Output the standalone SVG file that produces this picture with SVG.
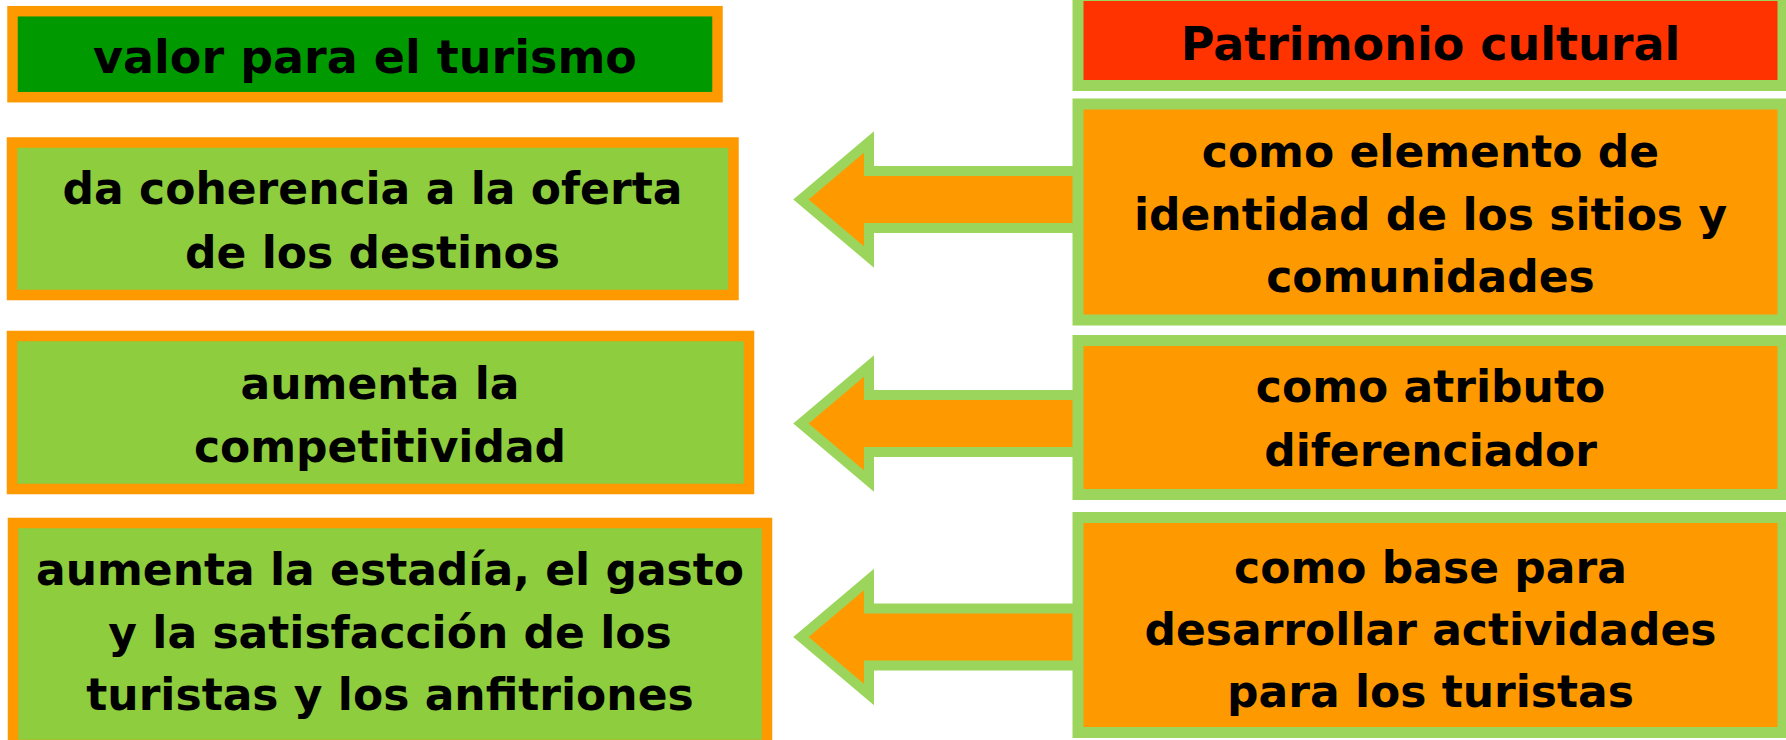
<svg xmlns="http://www.w3.org/2000/svg" width="1786" height="740" viewBox="0 0 1786 740">
<style>
.lbox{stroke:#FF9900;stroke-width:10.5}
.rbox{stroke:#9CD55B;stroke-width:11}
.arrow{fill:#FF9900;stroke:#9CD55B;stroke-width:10;stroke-linejoin:miter;stroke-miterlimit:10}
text{font-family:"DejaVu Sans","Verdana",sans-serif;font-weight:bold;fill:#000;text-anchor:middle}
.h{font-size:46px}
.b{font-size:44px}
</style>
<rect width="1786" height="740" fill="#FFFFFF"/>
<g id="connectors">
<path class="arrow" d="M1078,171 L869,171 L869,142 L801,199.5 L869,257 L869,228 L1078,228 Z"/>
<path class="arrow" d="M1078,395 L869,395 L869,366 L801,423.5 L869,481 L869,452 L1078,452 Z"/>
<path class="arrow" d="M1078,608.5 L869,608.5 L869,579.5 L801,637 L869,694.5 L869,665.5 L1078,665.5 Z"/>
</g>
<g id="left-header">
<rect class="lbox" x="12.5" y="11.2" width="705" height="86" fill="#009900"/>
<text class="h" x="365" y="72.7">valor para el turismo</text>
</g>
<g id="left-1">
<rect class="lbox" x="12" y="142.5" width="721.5" height="152.5" fill="#8DCD3E"/>
<text class="b" x="372.5" y="204">da coherencia a la oferta</text>
<text class="b" x="372.5" y="268">de los destinos</text>
</g>
<g id="left-2">
<rect class="lbox" x="12" y="336" width="737" height="153" fill="#8DCD3E"/>
<text class="b" x="380" y="399">aumenta la</text>
<text class="b" x="380" y="462">competitividad</text>
</g>
<g id="left-3">
<rect class="lbox" x="13" y="523" width="754" height="222" fill="#8DCD3E"/>
<text class="b" x="390" y="585">aumenta la estadía, el gasto</text>
<text class="b" x="390" y="648">y la satisfacción de los</text>
<text class="b" x="390" y="710">turistas y los anfitriones</text>
</g>
<g id="right-header">
<rect class="rbox" x="1078" y="-4.5" width="705" height="90" fill="#FF3300"/>
<text class="h" x="1430.5" y="60">Patrimonio cultural</text>
</g>
<g id="right-1">
<rect class="rbox" x="1078" y="104" width="705" height="216" fill="#FF9900"/>
<text class="b" x="1430.5" y="167">como elemento de</text>
<text class="b" x="1430.5" y="230">identidad de los sitios y</text>
<text class="b" x="1430.5" y="292">comunidades</text>
</g>
<g id="right-2">
<rect class="rbox" x="1078" y="340.5" width="705" height="154" fill="#FF9900"/>
<text class="b" x="1430.5" y="402">como atributo</text>
<text class="b" x="1430.5" y="466">diferenciador</text>
</g>
<g id="right-3">
<rect class="rbox" x="1078" y="517.5" width="705" height="215" fill="#FF9900"/>
<text class="b" x="1430.5" y="583">como base para</text>
<text class="b" x="1430.5" y="645">desarrollar actividades</text>
<text class="b" x="1430.5" y="707">para los turistas</text>
</g>
</svg>
